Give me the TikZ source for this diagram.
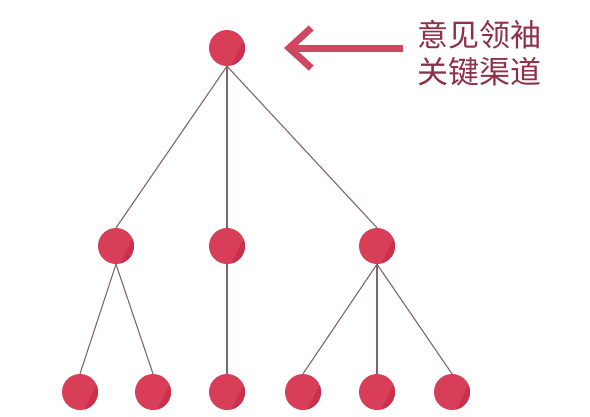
\documentclass[tikz,border=0pt]{standalone}
\usepackage{fontspec}
\newfontfamily\cjk{Noto Sans CJK SC}
\usetikzlibrary{positioning}
\usetikzlibrary{arrows.meta}
\definecolor{dotred}{HTML}{D83E58}
\definecolor{dotdark}{HTML}{C8304B}
\definecolor{edgegray}{HTML}{7E6569}
\definecolor{txtred}{HTML}{8E3047}
\definecolor{arrred}{HTML}{CF4760}

\begin{document}
\begin{tikzpicture}[x=1pt,y=-1pt]

                \def\dy{198pt}
                \def\ey{146pt}

                % round nodes, darker on the lower right
                \tikzset{
                    dot/.style={circle, fill=dotred, minimum size=36pt,
                        inner sep=0pt, on grid,
                        path picture={\fill[dotdark]
                            ([xshift=4pt]path picture bounding box.south)
                            -- ([yshift=-8pt]path picture bounding box.north east)
                            -- (path picture bounding box.south east) -- cycle;}},
                    label text/.style={font=\cjk\fontsize{31}{37}\selectfont,
                        text=txtred, align=left, inner ysep=0pt, inner xsep=14pt}
                }

                \useasboundingbox (0,0) rectangle (590,416);

                \node[dot] (top) at (227,48) {};
                \node[dot] (l) [below left=\dy and 111pt of top] {};
                \node[dot] (m) [below=\dy of top] {};
                \node[dot] (r) [below right=\dy and 150pt of top] {};
                \node[dot] (l1) [below left=\ey and 36pt of l] {};
                \node[dot] (l2) [below right=\ey and 37pt of l] {};
                \node[dot] (m1) [below=\ey of m] {};
                \node[dot] (r1) [below left=\ey and 74pt of r] {};
                \node[dot] (r2) [below=\ey of r] {};
                \node[dot] (r3) [below right=\ey and 75pt of r] {};

                \node[label text] (txt) at (479,53) {意见领袖\\关键渠道};
                \coordinate (tip) at (284,48);

                \begin{scope}[edgegray, line width=1.1pt]
                    \draw (top.south) -- (l.north);
                    \draw (top.south) -- (m.north);
                    \draw (top.south) -- (r.north);
                    \draw (l.south) -- (l1.north);
                    \draw (l.south) -- (l2.north);
                    \draw (m.south) -- (m1.north);
                    \draw (r.south) -- (r1.north);
                    \draw (r.south) -- (r2.north);
                    \draw (r.south) -- (r3.north);
                \end{scope}

                \draw[arrred, line width=7pt,
                    -{Straight Barb[length=22pt, width=40pt]}]
                    (txt.west |- tip) -- (tip);

\end{tikzpicture}
\end{document}
